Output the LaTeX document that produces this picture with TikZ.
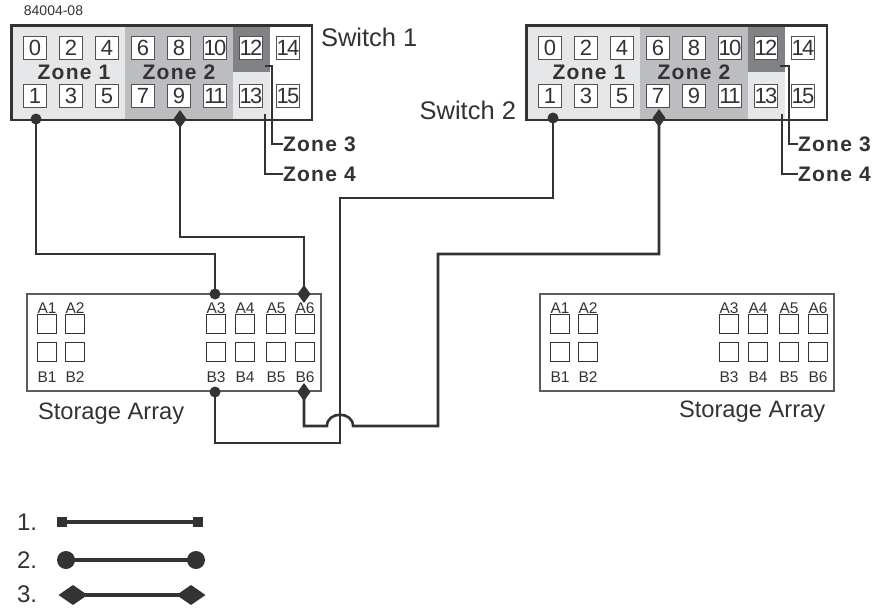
\documentclass[tikz,border=0pt]{standalone}
\usepackage{fontspec}
\setmainfont{Liberation Sans}
\newfontfamily\zonefont[LetterSpace=6]{Liberation Sans}
\newfontfamily\portfont[LetterSpace=-8]{Liberation Sans}
\usetikzlibrary{shapes.geometric}
\definecolor{ink}{HTML}{333333}
\definecolor{zonea}{HTML}{E6E7E8}
\definecolor{zoneb}{HTML}{BCBDC0}
\definecolor{zonec}{HTML}{808285}
\tikzset{
  x=1pt,y=-1pt,
  every node/.style={text=ink,inner sep=0pt,outer sep=0pt},
  swbox/.style={draw=ink,line width=2.5pt,fill=none},
  port/.style={draw=ink!85,line width=0.9pt,fill=white,minimum width=23.5pt,minimum height=23.5pt,font=\portfont\fontsize{22}{22}\selectfont},
  saport/.style={draw=ink,line width=1pt,fill=white,minimum width=19.5pt,minimum height=19.5pt},
  salabel/.style={font=\fontsize{15.5}{15.5}\selectfont},
  sabox/.style={draw=ink!80,line width=1.2pt,fill=none},
  wire/.style={draw=ink,line width=2.6pt,line join=miter},
  thin wire/.style={draw=ink,line width=2pt},
  dotend/.style={circle,fill=ink,minimum size=11pt},
  diaend/.style={diamond,fill=ink,minimum width=13pt,minimum height=18pt},
  zonetxt/.style={font=\zonefont\bfseries\fontsize{21}{21}\selectfont},
  bigtxt/.style={font=\fontsize{25.5}{25.5}\selectfont},
  legtxt/.style={font=\fontsize{24}{24}\selectfont},
  arraytxt/.style={font=\fontsize{23.7}{23.7}\selectfont},
  legline/.style={draw=ink,line width=4.5pt},
  legsq/.style={rectangle,fill=ink,minimum size=10pt},
  legdot/.style={circle,fill=ink,minimum size=18pt},
  legdia/.style={diamond,fill=ink,minimum width=29pt,minimum height=20pt},
}
\begin{document}
\begin{tikzpicture}
\useasboundingbox (0,0) rectangle (873,608);
\fill[white] (0,0) rectangle (873,608);
\node[font=\fontsize{14}{14}\selectfont] (tag) at (53.5,11) {84004-08};

% switches
\foreach \pre/\ox in {sa/0,sb/515}{
  \fill[zonea] (\ox+12,26) rectangle (\ox+125,119);
  \fill[zoneb] (\ox+125,26) rectangle (\ox+233,119);
  \fill[zonec] (\ox+233,26) rectangle (\ox+270,72);
  \fill[zonea] (\ox+233,72) rectangle (\ox+270,119);
  \draw[swbox] (\ox+11.5,25.5) rectangle (\ox+312,120);
  \foreach \n/\cx in {0/35,2/71,4/107,6/143,8/179,10/215,12/251,14/288}{
    \node[port] (\pre p\n) at (\ox+\cx,48) {\n};
  }
  \foreach \n/\cx in {1/35,3/71,5/107,7/143,9/179,11/215,13/251,15/288}{
    \node[port] (\pre p\n) at (\ox+\cx,96) {\n};
  }
  \node[zonetxt] (\pre z1) at (\ox+74,72) {Zone 1};
  \node[zonetxt] (\pre z2) at (\ox+179,72) {Zone 2};
}
\node[bigtxt,anchor=west] (swa) at (321,37) {Switch 1};
\node[bigtxt,anchor=east] (swb) at (516,110) {Switch 2};

% zone labels with leaders
\node[zonetxt,anchor=west] (saz3) at (283,144) {Zone 3};
\node[zonetxt,anchor=west] (saz4) at (283,174) {Zone 4};
\node[zonetxt,anchor=west] (sbz3) at (798,144) {Zone 3};
\node[zonetxt,anchor=west] (sbz4) at (798,174) {Zone 4};
\coordinate (saf3) at (265,66);
\coordinate (saf4) at (265,114);
\coordinate (sbf3) at (780,66);
\coordinate (sbf4) at (782,114);
\draw[thin wire] (saf3) -- (272,66) |- (saz3.west);
\draw[thin wire] (saf4) |- (saz4.west);
\draw[thin wire] (sbf3) -- (789,66) |- (sbz3.west);
\draw[thin wire] (sbf4) |- (sbz4.west);

% storage arrays
\foreach \pre/\ox in {ra/0,rb/513}{
  \draw[sabox] (\ox+27,294) rectangle (\ox+321,391);
  \foreach \n/\cx in {1/47,2/75,3/216,4/245,5/276,6/305}{
    \node[saport] (\pre a\n) at (\ox+\cx,324) {};
    \node[saport] (\pre b\n) at (\ox+\cx,352) {};
    \node[salabel] (\pre ta\n) at (\ox+\cx,308) {A\n};
    \node[salabel] (\pre tb\n) at (\ox+\cx,377) {B\n};
  }
}
\node[arraytxt,anchor=west] (saa) at (38,414) {Storage Array};
\node[arraytxt,anchor=west] (sab) at (679,412) {Storage Array};

% connector ends
\coordinate (s1one) at (36,119);
\coordinate (s1nine) at (180,119);
\coordinate (s2one) at (553,118);
\coordinate (s2seven) at (659,118);
\coordinate (ra3) at (215,294);
\coordinate (ra6) at (304,294);
\coordinate (rb3) at (215,392);
\coordinate (rb6) at (304,392);

\draw[wire] (s1one) -- (s1one |- 0,254) -- (ra3 |- 0,254) -- (ra3);
\draw[wire] (s1nine) -- (s1nine |- 0,237) -- (ra6 |- 0,237) -- (ra6);
\draw[wire] (rb3) -- (rb3 |- 0,443) -- (340,443) -- (340,198) -- (s2one |- 0,198) -- (s2one);
\draw[wire] (rb6) -- (rb6 |- 0,426) -- (327,426) .. controls (327,411) and (353,411) .. (353,426) -- (438,426) -- (438,254) -- (s2seven |- 0,254) -- (s2seven);

\node[dotend] (e1) at (s1one) {};
\node[diaend] (e2) at (s1nine) {};
\node[dotend] (e3) at (s2one) {};
\node[diaend] (e4) at (s2seven) {};
\node[dotend] (e5) at (ra3) {};
\node[diaend] (e6) at (ra6) {};
\node[dotend] (e7) at (rb3) {};
\node[diaend] (e8) at (rb6) {};

% legend
\node[legtxt,anchor=west] (l1) at (17,522) {1.};
\node[legtxt,anchor=west] (l2) at (17,560) {2.};
\node[legtxt,anchor=west] (l3) at (17,594) {3.};
\node[legsq] (q1) at (62,522) {};
\node[legsq] (q2) at (198,522) {};
\node[legdot] (d1) at (66,560) {};
\node[legdot] (d2) at (196,560) {};
\node[legdia] (k1) at (73,595) {};
\node[legdia] (k2) at (191,595) {};
\draw[legline] (q1.center) -- (q2.center);
\draw[legline] (d1.center) -- (d2.center);
\draw[legline] (k1.center) -- (k2.center);
\end{tikzpicture}
\end{document}
